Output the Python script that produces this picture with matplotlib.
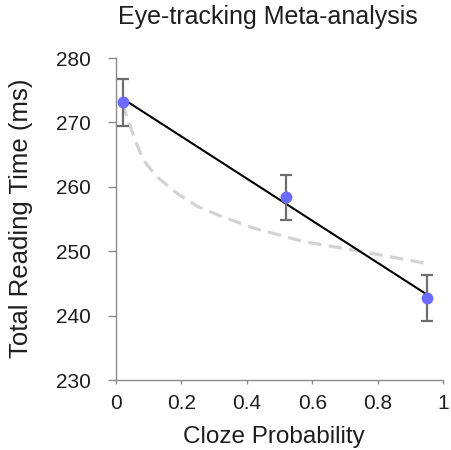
import matplotlib
matplotlib.use("Agg")
import matplotlib.pyplot as plt

# observed means with error bars
cloze = [0.02, 0.52, 0.95]
reading_time = [273.1, 258.4, 242.7]
err = [3.7, 3.5, 3.6]

# linear fit drawn in black (end points)
lin_x = [0.02, 0.95]
lin_y = [273.7, 243.3]

# dashed log-shaped fit
curve_x = [0.02, 0.033, 0.058, 0.083, 0.124, 0.186, 0.247, 0.318,
           0.42, 0.573, 0.746, 0.95]
curve_y = [273.0, 270.9, 267.3, 264.2, 261.6, 259.0, 257.0, 255.5,
           253.6, 251.5, 250.0, 248.1]

xticks = [0, 0.2, 0.4, 0.6, 0.8, 1]
xticklabels = ["0", "0.2", "0.4", "0.6", "0.8", "1"]
yticks = [230, 240, 250, 260, 270, 280]

AXIS = "#8C8C8C"
INK = "#1E1E1E"
plt.rcParams["font.family"] = ["Liberation Sans", "DejaVu Sans"]

fig = plt.figure(figsize=(4.51, 4.5), dpi=100)
ax = fig.add_axes([116 / 451, 1 - 380 / 450, 327 / 451, 322 / 450])

ax.plot(curve_x, curve_y, color="#D3D3D3", lw=2.3, ls=(0, (4.2, 2.3)),
        zorder=2)
ax.plot(lin_x, lin_y, color="black", lw=1.5, zorder=3)
ax.errorbar(cloze, reading_time, yerr=err, fmt="none", ecolor="#6E6E6E",
            elinewidth=1.6, capsize=4, capthick=1.6, zorder=4)
ax.plot(cloze, reading_time, "o", color="#6B6BFF", ms=7.5, zorder=5)

ax.set_xlim(0, 1)
ax.set_ylim(230, 280)
ax.set_xticks(xticks)
ax.set_xticklabels(xticklabels)
ax.set_yticks(yticks)
ax.spines[["top", "right"]].set_visible(False)
for s in ("left", "bottom"):
    ax.spines[s].set_color(AXIS)
    ax.spines[s].set_linewidth(1.0)
ax.tick_params(axis="y", direction="out", length=6, width=1.0, color=AXIS,
               labelsize=15, pad=12, labelcolor=INK)
ax.tick_params(axis="x", direction="out", length=3, width=1.0, color=AXIS,
               labelsize=15, pad=7, labelcolor=INK)

fig.text(268 / 451, 1 - 17 / 450, "Eye-tracking Meta-analysis",
         ha="center", va="center", fontsize=18, color=INK)
fig.text(274 / 451, 1 - 437 / 450, "Cloze Probability",
         ha="center", va="center", fontsize=17.5, color=INK)
fig.text(21 / 451, 1 - 218 / 450, "Total Reading Time (ms)",
         ha="center", va="center", rotation=90, fontsize=18.5, color=INK)

fig.savefig("out.png", dpi=100)
